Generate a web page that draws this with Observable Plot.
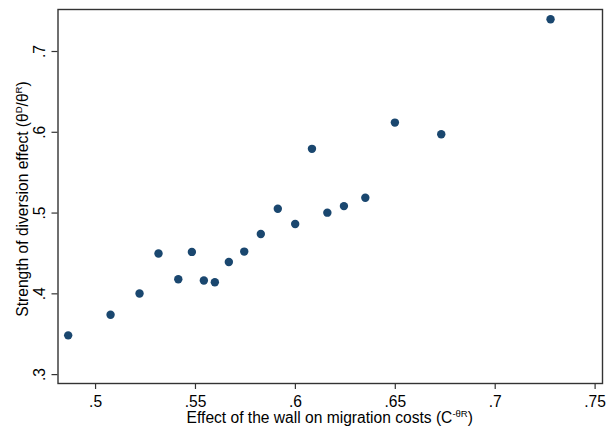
<!DOCTYPE html>
<html>
<head>
<meta charset="utf-8">
<script src="https://cdn.jsdelivr.net/npm/d3@7"></script>
<script src="https://cdn.jsdelivr.net/npm/@observablehq/plot@0.6"></script>
<style>
  html, body { margin: 0; padding: 0; background: #fff; }
  #chart { width: 607px; height: 430px; }
</style>
</head>
<body>
<div id="chart"></div>
<script>
// Effect of the wall on migration costs (x) vs strength of diversion effect (y)
const wallEffect = [0.4863, 0.5075, 0.5220, 0.5315, 0.5414, 0.5482, 0.5542, 0.5597, 0.5667, 0.5744,
                    0.5827, 0.5912, 0.5999, 0.6083, 0.6160, 0.6243, 0.6350, 0.6498, 0.6730, 0.7277];
const diversion  = [0.3486, 0.3741, 0.4005, 0.4499, 0.4181, 0.4519, 0.4165, 0.4144, 0.4395, 0.4523,
                    0.4741, 0.5054, 0.4864, 0.5795, 0.5005, 0.5086, 0.5190, 0.6120, 0.5975, 0.7400];
const xTicks = [0.5, 0.55, 0.6, 0.65, 0.7, 0.75];
const xTickLabels = [".5", ".55", ".6", ".65", ".7", ".75"];
const yTicks = [0.3, 0.4, 0.5, 0.6, 0.7];
const yTickLabels = [".3", ".4", ".5", ".6", ".7"];

const points = wallEffect.map((x, i) => ({x, y: diversion[i]}));
const axisColor = "#333333";
const dotColor = "#1a476f";
const FS = 15.6;

const W = 607, H = 430;
const mL = 57.5, mT = 9, mR = 5, mB = 47;

const svg = Plot.plot({
  width: W,
  height: H,
  marginLeft: mL,
  marginTop: mT,
  marginRight: mR,
  marginBottom: mB,
  style: {fontFamily: "'Liberation Sans', Arial, Helvetica, sans-serif", fontSize: FS + "px", background: "#fff", color: "#000"},
  x: {domain: [0.4812, 0.7537], label: null},
  y: {domain: [0.289, 0.752], label: null},
  marks: [
    Plot.axisX(xTicks, {
      tickSize: 6, tickPadding: 6, stroke: axisColor, strokeWidth: 1.2,
      tickFormat: (d) => xTickLabels[xTicks.indexOf(d)], fontSize: FS, fill: "#000"
    }),
    Plot.axisY(yTicks, {tickSize: 6, stroke: axisColor, strokeWidth: 1.2, text: null, label: null}),
    Plot.text(yTicks, {
      y: d => d, frameAnchor: "left", dx: -18, rotate: -90,
      text: d => yTickLabels[yTicks.indexOf(d)], fontSize: FS, fill: "#000", textAnchor: "middle"
    }),
    Plot.frame({stroke: axisColor, strokeWidth: 1.4}),
    Plot.dot(points, {x: "x", y: "y", r: 4.2, fill: dotColor, stroke: null})
  ]
});

const s = d3.select(svg);
const cx = (mL + (W - mR)) / 2;
const cy = (mT + (H - mB)) / 2;

// X axis title with superscript
const xt = s.append("text")
  .attr("x", cx).attr("y", 423)
  .attr("text-anchor", "middle")
  .attr("font-size", FS).attr("fill", "#000");
xt.append("tspan").text("Effect of the wall on migration costs (C");
xt.append("tspan").attr("font-size", 9.5).attr("dy", -6).text("-θR");
xt.append("tspan").attr("dy", 6).text(")");

// Y axis title with superscripts
const yt = s.append("text")
  .attr("transform", `translate(28,${cy + 3}) rotate(-90)`)
  .attr("text-anchor", "middle")
  .attr("font-size", FS).attr("fill", "#000");
yt.append("tspan").text("Strength of diversion effect (θ");
yt.append("tspan").attr("font-size", 9.5).attr("dy", -6).text("D");
yt.append("tspan").attr("dy", 6).text("/θ");
yt.append("tspan").attr("font-size", 9.5).attr("dy", -6).text("R");
yt.append("tspan").attr("dy", 6).text(")");

document.getElementById("chart").appendChild(svg);
</script>
</body>
</html>
